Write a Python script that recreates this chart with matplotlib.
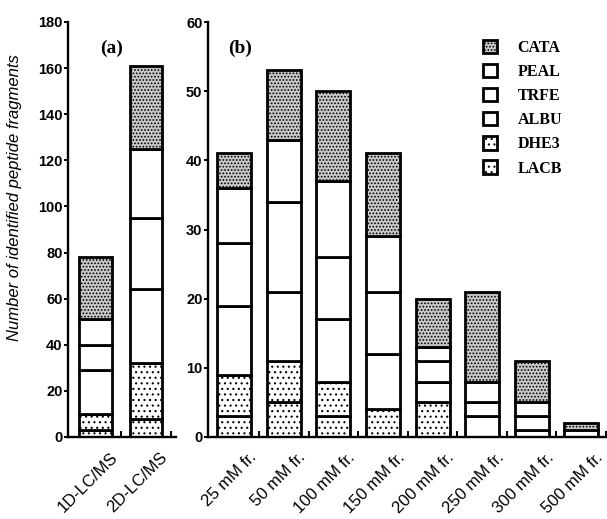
import numpy as np
import matplotlib
matplotlib.use("Agg")
import matplotlib.pyplot as plt
import matplotlib.transforms as mtransforms

# stacked counts per protein, bottom -> top
proteins = ["LACB", "DHE3", "ALBU", "TRFE", "PEAL", "CATA"]

methods = ["1D-LC/MS", "2D-LC/MS"]
method_counts = {
    "LACB": [3, 8],
    "DHE3": [7, 24],
    "ALBU": [19, 32],
    "TRFE": [11, 31],
    "PEAL": [11, 30],
    "CATA": [27, 36],
}

fractions = ["25 mM fr.", "50 mM fr.", "100 mM fr.", "150 mM fr.",
             "200 mM fr.", "250 mM fr.", "300 mM fr.", "500 mM fr."]
fraction_counts = {
    "LACB": [3, 5, 3, 0, 0, 0, 0, 0],
    "DHE3": [6, 6, 5, 4, 5, 0, 0, 0],
    "ALBU": [10, 10, 9, 8, 3, 3, 1, 0],
    "TRFE": [9, 13, 9, 9, 3, 2, 2, 0],
    "PEAL": [8, 9, 11, 8, 2, 3, 2, 1],
    "CATA": [5, 10, 13, 12, 7, 13, 6, 1],
}

styles = {
    "LACB": dict(facecolor="white", hatch="..."),
    "DHE3": dict(facecolor="white", hatch="..."),
    "ALBU": dict(facecolor="white", hatch=None),
    "TRFE": dict(facecolor="white", hatch=None),
    "PEAL": dict(facecolor="white", hatch=None),
    "CATA": dict(facecolor="#c8c8c8", hatch="....."),
}

plt.rcParams["hatch.linewidth"] = 0.8
sans = "Liberation Sans"
serif = "Liberation Serif"

W, H = 607, 519
fig = plt.figure(figsize=(W / 100, H / 100), dpi=100)
ax_a = fig.add_axes([68 / W, 82 / H, 108 / W, 415 / H])
ax_b = fig.add_axes([208 / W, 82 / H, 399 / W, 415 / H])


def stacked(ax, counts, n, width):
    x = np.arange(n)
    bottom = np.zeros(n)
    handles = {}
    for p in proteins:
        vals = np.array(counts[p], dtype=float)
        st = styles[p]
        h = ax.bar(x, vals, width, bottom=bottom, facecolor=st["facecolor"],
                   hatch=st["hatch"], edgecolor="black", linewidth=2.0)
        handles[p] = h
        bottom += vals
    return handles


def style_axis(ax, labels, ymax, step):
    n = len(labels)
    for s in ["top", "right"]:
        ax.spines[s].set_visible(False)
    for s in ["left", "bottom"]:
        ax.spines[s].set_linewidth(1.7)
    ax.set_ylim(0, ymax)
    ax.set_yticks(np.arange(0, ymax + 1, step))
    ax.tick_params(axis="y", direction="out", length=3, width=1.4, pad=1)
    for t in ax.get_yticklabels():
        t.set_fontfamily(sans)
        t.set_fontweight("bold")
        t.set_fontsize(10.5)
    ax.set_xticks(np.arange(n))
    ax.set_xticklabels(labels, rotation=45, ha="right", va="top",
                       rotation_mode="anchor", fontfamily=sans, fontsize=12)
    ax.tick_params(axis="x", which="major", length=0, pad=9)
    shift = mtransforms.ScaledTranslation(0.14, 0, fig.dpi_scale_trans)
    for t in ax.get_xticklabels():
        t.set_transform(t.get_transform() + shift)
    ax.set_xticks(np.arange(n) + 0.5, minor=True)
    ax.tick_params(axis="x", which="minor", direction="in", length=4, width=1.4)


stacked(ax_a, method_counts, len(methods), 0.645)
style_axis(ax_a, methods, 180, 20)
ax_a.set_xlim(-0.55, 1.6)

handles = stacked(ax_b, fraction_counts, len(fractions), 0.686)
style_axis(ax_b, fractions, 60, 10)
ax_b.set_xlim(-0.53, 7.52)

ax_a.text(0.3, 0.937, "(a)", transform=ax_a.transAxes, fontfamily=serif,
          fontweight="bold", fontsize=14, va="center")
ax_b.text(0.05, 0.937, "(b)", transform=ax_b.transAxes, fontfamily=serif,
          fontweight="bold", fontsize=14, va="center")

leg_order = ["CATA", "PEAL", "TRFE", "ALBU", "DHE3", "LACB"]
ax_b.legend([handles[p] for p in leg_order], leg_order, loc="upper left",
            bbox_to_anchor=(0.688, 0.957), frameon=False, handlelength=0.9,
            handleheight=0.9, handletextpad=1.3, labelspacing=0.5,
            borderpad=0, borderaxespad=0,
            prop={"family": serif, "weight": "bold", "size": 11.5})

fig.text(15 / W, 1 - 198 / H, "Number of identified peptide fragments",
         rotation=90, ha="center", va="center", fontfamily=sans,
         fontstyle="italic", fontsize=12)

fig.savefig("out.png", dpi=100)
